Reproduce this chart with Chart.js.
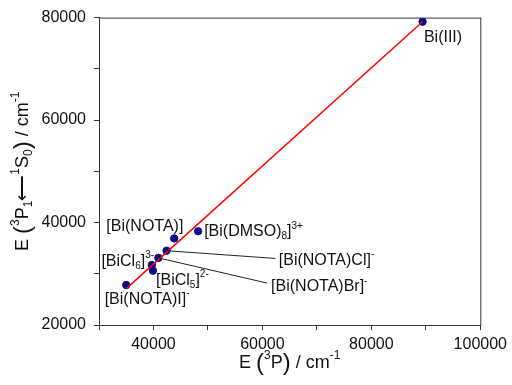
<!DOCTYPE html>
<html>
<head>
<meta charset="utf-8">
<script src="https://cdn.jsdelivr.net/npm/chart.js@4"></script>
<style>
  html, body { margin: 0; padding: 0; background: #fff; }
  #wrap { width: 512px; height: 385px; }
</style>
</head>
<body>
<div id="wrap"><canvas id="chart" width="512" height="385"></canvas></div>
<script>
// measured values, cm-1
const xValues = [35000, 39900, 39700, 40900, 42400, 43800, 48200, 89400];
const yValues = [27800, 30600, 31700, 33100, 34500, 36900, 38300, 79200];

// linear fit line
const fitX = [35000, 89400];
const fitY = [27100, 79200];

const xTicks = [30000, 40000, 50000, 60000, 70000, 80000, 90000, 100000];
const yTicks = [20000, 30000, 40000, 50000, 60000, 70000, 80000];

// annotation labels (markup: _{sub} ^{sup})
const labelTexts = [
  "[Bi(NOTA)]",
  "[Bi(DMSO)_{8}]^{3+}",
  "[BiCl_{6}]^{3-}",
  "[BiCl_{5}]^{2-}",
  "[Bi(NOTA)I]^{-}",
  "[Bi(NOTA)Cl]^{-}",
  "[Bi(NOTA)Br]^{-}",
  "Bi(III)",
];
const labelX = [31350, 49300, 30440, 40480, 31040, 63000, 61590, 89650];
const labelY = [39140, 38170, 32460, 28760, 25000, 32660, 27400, 76130];

// leader lines: from point index to label end
const leaderFrom = [4, 3];
const leaderToX = [62390, 60860];
const leaderToY = [32990, 28180];

const FONT = "'Liberation Sans', Arial, sans-serif";

function parseRich(str) {
  const segs = [];
  let i = 0;
  while (i < str.length) {
    const c = str[i];
    if ((c === "^" || c === "_") && str[i + 1] === "{") {
      const end = str.indexOf("}", i);
      segs.push({ t: str.slice(i + 2, end), k: c === "^" ? "sup" : "sub" });
      i = end + 1;
    } else {
      let j = i;
      while (j < str.length && !((str[j] === "^" || str[j] === "_") && str[j + 1] === "{")) j++;
      segs.push({ t: str.slice(i, j), k: "n" });
      i = j;
    }
  }
  return segs;
}

function segFont(seg, size, bigParens) {
  if (seg.k === "sup" || seg.k === "sub") return Math.round(size * 0.65) + "px " + FONT;
  if (bigParens && (seg.t === "(" || seg.t === ")")) return Math.round(size * 1.35) + "px " + FONT;
  return size + "px " + FONT;
}

function splitParens(segs) {
  const out = [];
  segs.forEach((s) => {
    if (s.k !== "n") { out.push(s); return; }
    s.t.split(/([()])/).forEach((p) => { if (p) out.push({ t: p, k: "n" }); });
  });
  return out;
}

function richWidth(ctx, segs, size, bigParens) {
  let w = 0;
  segs.forEach((s) => { ctx.font = segFont(s, size, bigParens); w += ctx.measureText(s.t).width; });
  return w;
}

function drawRich(ctx, str, x, y, size, align, bigParens) {
  let segs = parseRich(str);
  if (bigParens) segs = splitParens(segs);
  const w = richWidth(ctx, segs, size, bigParens);
  let cx = align === "center" ? x - w / 2 : x;
  ctx.textBaseline = "middle";
  ctx.textAlign = "left";
  segs.forEach((s) => {
    ctx.font = segFont(s, size, bigParens);
    let dy = 0;
    if (s.k === "sup") dy = -size * 0.38;
    if (s.k === "sub") dy = size * 0.3;
    if (bigParens && s.k === "n" && (s.t === "(" || s.t === ")")) dy = size * 0.03;
    ctx.fillText(s.t, cx, y + dy);
    cx += ctx.measureText(s.t).width;
  });
}

const overlay = {
  id: "overlay",
  afterDatasetsDraw(chart) {
    const ctx = chart.ctx;
    const xs = chart.scales.x;
    const ys = chart.scales.y;
    const a = chart.chartArea;
    ctx.save();
    // frame
    ctx.strokeStyle = "#333";
    ctx.lineWidth = 1;
    ctx.strokeRect(a.left + 0.5, a.top + 0.5, a.right - a.left, a.bottom - a.top);
    // leader lines
    ctx.strokeStyle = "#222";
    leaderFrom.forEach((pi, i) => {
      ctx.beginPath();
      ctx.moveTo(xs.getPixelForValue(xValues[pi]), ys.getPixelForValue(yValues[pi]));
      ctx.lineTo(xs.getPixelForValue(leaderToX[i]), ys.getPixelForValue(leaderToY[i]));
      ctx.stroke();
    });
    // labels
    ctx.fillStyle = "#111";
    labelTexts.forEach((t, i) => {
      drawRich(ctx, t, xs.getPixelForValue(labelX[i]), ys.getPixelForValue(labelY[i]), 16, "left", false);
    });
    // axis titles
    drawRich(ctx, "E (^{3}P) / cm^{-1}", (a.left + a.right) / 2, 363, 18, "center", true);
    ctx.translate(23, (a.top + a.bottom) / 2);
    ctx.rotate(-Math.PI / 2);
    drawRich(ctx, "E (^{3}P_{1}\u27F5^{1}S_{0}) / cm^{-1}", 0, 0, 18, "center", true);
    ctx.restore();
  },
};

new Chart(document.getElementById("chart"), {
  type: "scatter",
  data: {
    datasets: [
      {
        label: "fit",
        type: "line",
        data: fitX.map((x, i) => ({ x, y: fitY[i] })),
        borderColor: "#ff0000",
        borderWidth: 1.5,
        pointRadius: 0,
        fill: false,
      },
      {
        label: "data",
        data: xValues.map((x, i) => ({ x, y: yValues[i] })),
        backgroundColor: "#0a0a8c",
        borderColor: "#0a0a8c",
        pointRadius: 3.7,
      },
    ],
  },
  options: {
    responsive: false,
    animation: false,
    layout: { padding: { left: 0, top: 17, right: 30, bottom: 0 } },
    plugins: { legend: { display: false }, tooltip: { enabled: false } },
    scales: {
      x: {
        type: "linear",
        min: 30000,
        max: 100000,
        afterBuildTicks: (s) => { s.ticks = xTicks.map((v) => ({ value: v })); },
        afterFit: (s) => { s.height = 60; },
        ticks: {
          callback: (v) => (v % 20000 === 0 ? String(v) : ""),
          font: { size: 16, family: FONT },
          color: "#111",
          padding: 5,
          maxRotation: 0,
          autoSkip: false,
        },
        grid: { drawOnChartArea: false, drawTicks: true, tickLength: 5, color: "#333" },
        border: { display: true, color: "#333" },
      },
      y: {
        type: "linear",
        min: 20000,
        max: 80000,
        afterBuildTicks: (s) => { s.ticks = yTicks.map((v) => ({ value: v })); },
        afterFit: (s) => { s.width = 99; },
        ticks: {
          callback: (v) => (v % 20000 === 0 ? String(v) : ""),
          font: { size: 16, family: FONT },
          color: "#111",
          padding: 8,
          autoSkip: false,
        },
        grid: { drawOnChartArea: false, drawTicks: true, tickLength: 5, color: "#333" },
        border: { display: true, color: "#333" },
      },
    },
  },
  plugins: [overlay],
});
</script>
</body>
</html>
